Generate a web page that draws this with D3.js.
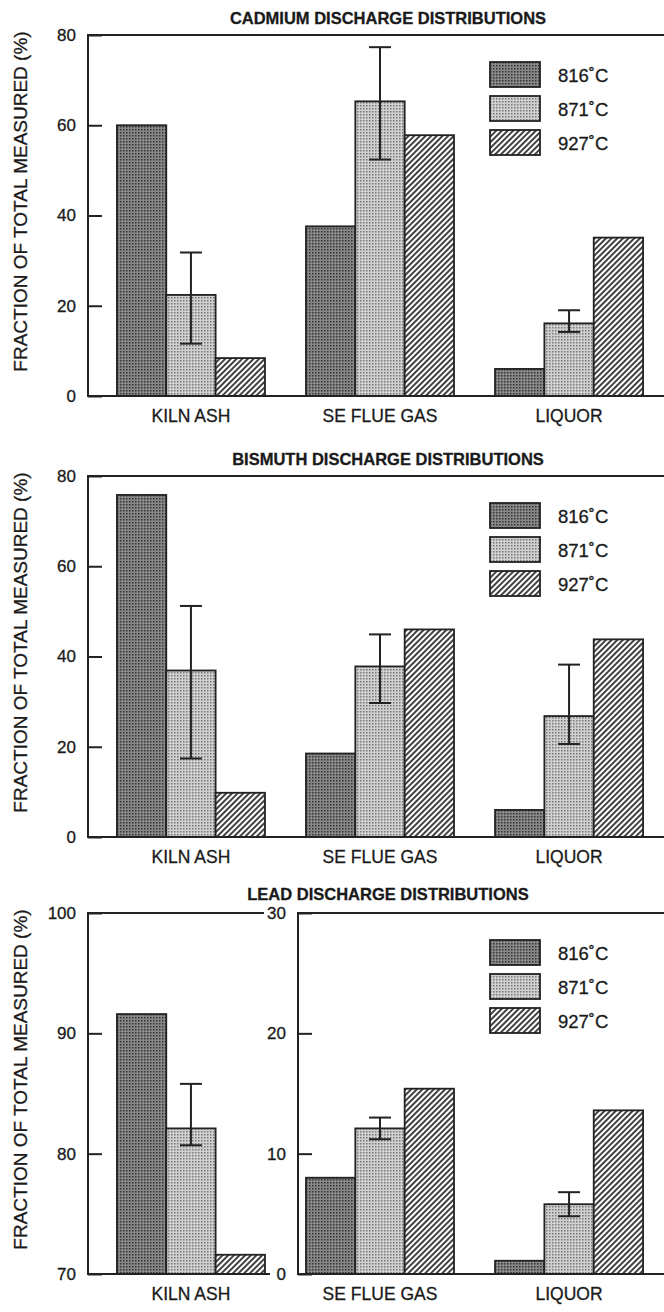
<!DOCTYPE html>
<html>
<head>
<meta charset="utf-8">
<script src="https://cdn.jsdelivr.net/npm/d3@7"></script>
<style>
  body { margin: 0; background: #fff; }
  svg text { font-family: "Liberation Sans", Arial, Helvetica, sans-serif; fill: #1a1a1a; stroke: #1a1a1a; stroke-width: 0.3; }
</style>
</head>
<body>
<svg id="chart" width="664" height="1312"></svg>
<script>
const categories = ['KILN ASH', 'SE FLUE GAS', 'LIQUOR']
const temps = ['816˚C', '871˚C', '927˚C']

// cadmium
const cadmium816 = [60, 37.6, 6]
const cadmium871 = [22.4, 65.3, 16.1]
const cadmium927 = [8.4, 57.8, 35.1]
const cadmiumErrLow = [11.6, 52.4, 14.2]
const cadmiumErrHigh = [31.8, 77.3, 19]

// bismuth
const bismuth816 = [75.8, 18.5, 6]
const bismuth871 = [36.9, 37.8, 26.8]
const bismuth927 = [9.8, 46, 43.8]
const bismuthErrLow = [17.4, 29.7, 20.6]
const bismuthErrHigh = [51.2, 44.9, 38.2]

// lead (kiln ash on its own 70-100 axis, the rest on 0-30)
const lead816 = [91.6, 8, 1.1]
const lead871 = [82.1, 12.1, 5.8]
const lead927 = [71.6, 15.4, 13.6]
const leadErrLow = [80.7, 11.2, 4.8]
const leadErrHigh = [85.8, 13, 6.8]

const yTicksMain = [0, 20, 40, 60, 80]
const yTicksLeadLeft = [70, 80, 90, 100]
const yTicksLeadRight = [0, 10, 20, 30]

const axisX = 88
const frameRight = 672
const panelH = 361
const ink = '#222'

const svg = d3.select('#chart')
const defs = svg.append('defs')

// fill patterns
const p816 = defs.append('pattern').attr('id', 'p816')
  .attr('patternUnits', 'userSpaceOnUse').attr('width', 3).attr('height', 3)
p816.append('rect').attr('width', 3).attr('height', 3).attr('fill', '#888')
p816.append('rect').attr('width', 1.5).attr('height', 1.5).attr('fill', '#333')

const p871 = defs.append('pattern').attr('id', 'p871')
  .attr('patternUnits', 'userSpaceOnUse').attr('width', 3).attr('height', 3)
p871.append('rect').attr('width', 3).attr('height', 3).attr('fill', '#d0d0d0')
p871.append('rect').attr('width', 1.5).attr('height', 1.5).attr('fill', '#777')

const p927 = defs.append('pattern').attr('id', 'p927')
  .attr('patternUnits', 'userSpaceOnUse').attr('width', 4).attr('height', 4)
  .attr('patternTransform', 'rotate(45)')
p927.append('rect').attr('width', 4).attr('height', 4).attr('fill', '#fff')
p927.append('line').attr('x1', 1).attr('x2', 1).attr('y1', 0).attr('y2', 4)
  .attr('stroke', '#111').attr('stroke-width', 1.6)

const fills = ['url(#p816)', 'url(#p871)', 'url(#p927)']

const x = d3.scaleBand().domain(categories).range([axisX, frameRight])
  .paddingInner(0.217).paddingOuter(0.153)
const xs = d3.scaleBand().domain(temps).range([0, x.bandwidth()])

function drawYAxis (g, scale, ticks, at) {
  const ax = g.append('g')
    .attr('transform', `translate(${at},0)`)
    .call(d3.axisLeft(scale).tickValues(ticks).tickSizeInner(-14).tickSizeOuter(0).tickPadding(12))
  ax.select('.domain').remove()
  ax.selectAll('line').attr('stroke', ink).attr('stroke-width', 2)
  ax.selectAll('text').attr('font-size', 17).attr('font-family', null).attr('fill', '#1a1a1a')
  return ax
}

function drawPanel (opt) {
  const { title, top, series, errLow, errHigh, split } = opt
  const bottom = top + panelH
  const g = svg.append('g')

  const yMain = d3.scaleLinear().domain([0, 80]).range([bottom, top])
  const yLeft = d3.scaleLinear().domain([70, 100]).range([bottom, top])
  const yRight = d3.scaleLinear().domain([0, 30]).range([bottom, top])
  const yFor = i => (split ? (i === 0 ? yLeft : yRight) : yMain)

  g.append('text')
    .attr('x', 388).attr('y', top - (split ? 13 : 11))
    .attr('text-anchor', 'middle')
    .attr('font-size', 16.5).attr('font-weight', 'bold')
    .text(title)

  g.append('text')
    .attr('transform', `translate(27,${top + panelH / 2 - 14}) rotate(-90)`)
    .attr('text-anchor', 'middle')
    .attr('font-size', 19)
    .text('FRACTION OF TOTAL MEASURED (%)')

  // bars
  series.forEach((vals, s) => {
    g.append('g').selectAll('rect')
      .data(vals)
      .enter()
      .append('rect')
      .attr('x', (d, i) => x(categories[i]) + xs(temps[s]))
      .attr('y', (d, i) => yFor(i)(d))
      .attr('width', xs.bandwidth())
      .attr('height', (d, i) => yFor(i).range()[0] - yFor(i)(d))
      .attr('fill', fills[s])
      .attr('stroke', ink)
      .attr('stroke-width', 1.8)
  })

  // error bars on the 871 series
  const cx = i => x(categories[i]) + xs(temps[1]) + xs.bandwidth() / 2
  const eb = g.append('g').attr('stroke', ink).attr('stroke-width', 2)
  errLow.forEach((lo, i) => {
    const y = yFor(i)
    const hi = errHigh[i]
    eb.append('line').attr('x1', cx(i)).attr('x2', cx(i)).attr('y1', y(lo)).attr('y2', y(hi))
    eb.append('line').attr('x1', cx(i) - 11).attr('x2', cx(i) + 11).attr('y1', y(lo)).attr('y2', y(lo))
    eb.append('line').attr('x1', cx(i) - 11).attr('x2', cx(i) + 11).attr('y1', y(hi)).attr('y2', y(hi))
  })

  // frame and axes
  const frame = g.append('g').attr('stroke', ink).attr('stroke-width', 2).attr('fill', 'none')
  if (!split) {
    frame.append('rect').attr('x', axisX).attr('y', top)
      .attr('width', frameRight - axisX).attr('height', panelH)
    drawYAxis(g, yMain, yTicksMain, axisX)
  } else {
    const rightAxisX = 298
    frame.append('path').attr('d', `M264,${top}H${axisX}V${bottom}H270`)
    frame.append('path').attr('d', `M${frameRight},${top}H${rightAxisX}V${bottom}H${frameRight}`)
    drawYAxis(g, yLeft, yTicksLeadLeft, axisX)
    drawYAxis(g, yRight, yTicksLeadRight, rightAxisX)
  }

  g.append('g').selectAll('text')
    .data(categories)
    .enter()
    .append('text')
    .attr('x', d => x(d) + x.bandwidth() / 2)
    .attr('y', bottom + 26)
    .attr('text-anchor', 'middle')
    .attr('font-size', 17.5)
    .text(d => d)

  // legend
  const lg = g.append('g').attr('transform', `translate(490,${top + 27})`)
  temps.forEach((t, i) => {
    lg.append('rect')
      .attr('x', 0).attr('y', i * 34)
      .attr('width', 50).attr('height', 25)
      .attr('fill', fills[i]).attr('stroke', ink).attr('stroke-width', 1.8)
    lg.append('text')
      .attr('x', 68).attr('y', i * 34 + 13)
      .attr('dominant-baseline', 'central')
      .attr('font-size', 18.5)
      .text(t)
  })
}

drawPanel({
  title: 'CADMIUM DISCHARGE DISTRIBUTIONS',
  top: 35,
  series: [cadmium816, cadmium871, cadmium927],
  errLow: cadmiumErrLow,
  errHigh: cadmiumErrHigh
})

drawPanel({
  title: 'BISMUTH DISCHARGE DISTRIBUTIONS',
  top: 476,
  series: [bismuth816, bismuth871, bismuth927],
  errLow: bismuthErrLow,
  errHigh: bismuthErrHigh
})

drawPanel({
  title: 'LEAD DISCHARGE DISTRIBUTIONS',
  top: 913,
  series: [lead816, lead871, lead927],
  errLow: leadErrLow,
  errHigh: leadErrHigh,
  split: true
})
</script>
</body>
</html>
